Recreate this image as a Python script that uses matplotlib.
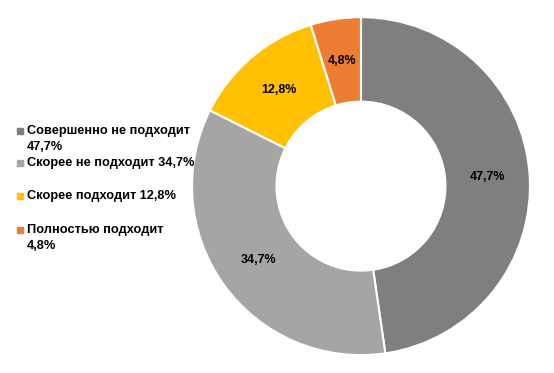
import matplotlib
matplotlib.use('Agg')
import matplotlib.pyplot as plt
from matplotlib.patches import Rectangle

plt.rcParams['font.family'] = ['Liberation Sans', 'DejaVu Sans']

categories = ['Совершенно не подходит', 'Скорее не подходит', 'Скорее подходит', 'Полностью подходит']
values = [47.7, 34.7, 12.8, 4.8]
colors = ['#7F7F7F', '#A5A5A5', '#FFC000', '#ED7D31']
# legend text as laid out in the original (line breaks included)
legend_labels = ['Совершенно не подходит\n47,7%', 'Скорее не подходит 34,7%',
                 'Скорее подходит 12,8%', 'Полностью подходит\n4,8%']


def fmt(p):
    return f'{p:.1f}%'.replace('.', ',')


fig = plt.figure(figsize=(5.54, 3.73), dpi=100)
ax = fig.add_axes([0.3466, 0.048, 0.610, 0.906])

wedges, texts, autotexts = ax.pie(values, colors=colors, startangle=90, counterclock=False,
                                  radius=1, autopct=fmt, pctdistance=0.75,
                                  wedgeprops=dict(width=0.5, edgecolor='white', linewidth=1.5),
                                  textprops=dict(fontsize=9, fontweight='bold', color='black'))
ax.set_xlim(-1, 1)
ax.set_ylim(-1, 1)
ax.set_aspect('equal')

# legend on the left, drawn by hand to mimic Excel layout
legend_y = [131, 163, 196, 230]
for lab, col, y in zip(legend_labels, colors, legend_y):
    fy = 1 - y / 373
    fig.add_artist(Rectangle((17 / 554, fy - 3 / 373), 6 / 554, 6 / 373,
                             transform=fig.transFigure, color=col))
    fig.text(27 / 554, fy + 6 / 373, lab, fontsize=9.2, fontweight='bold',
             va='top', ha='left', linespacing=1.4)

fig.savefig('out.png', dpi=100)
